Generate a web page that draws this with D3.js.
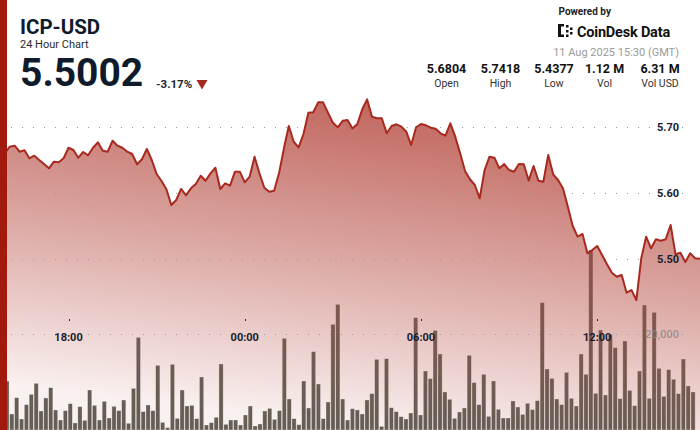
<!DOCTYPE html>
<html><head><meta charset="utf-8">
<script src="https://cdn.jsdelivr.net/npm/d3@7"></script>
<style>
html,body{margin:0;padding:0;background:#fff;}
svg{display:block;font-family:Roboto,"Noto Sans",sans-serif;}
</style></head><body>
<svg id="chart" width="700" height="430"></svg>
<script>
// ---------- data ----------
const startTime = Date.UTC(2025, 7, 10, 15, 40);   // first 10-minute point
const stepMinutes = 10;
const prices = [
5.6621,5.6606,5.6702,5.6717,5.6626,5.6647,5.6526,5.6565,5.6500,5.6439,
5.6374,5.6474,5.6465,5.6526,5.6686,5.6652,5.6535,5.6621,5.6571,5.6686,
5.6768,5.6641,5.6626,5.6792,5.6717,5.6686,5.6626,5.6591,5.6435,5.6511,
5.6667,5.6500,5.6288,5.6182,5.6056,5.5818,5.5894,5.6061,5.5965,5.6071,
5.6136,5.6262,5.6186,5.6298,5.6383,5.6061,5.6147,5.6111,5.6323,5.6323,
5.6162,5.6247,5.6550,5.6298,5.6080,5.6020,5.6035,5.6298,5.6677,5.7015,
5.6777,5.6692,5.6894,5.7217,5.7223,5.7374,5.7374,5.7217,5.7065,5.6995,
5.7095,5.7106,5.6977,5.7045,5.7268,5.7418,5.7156,5.7132,5.7132,5.6905,
5.7015,5.7041,5.7005,5.6929,5.6727,5.6995,5.7045,5.7026,5.6989,5.6974,
5.6905,5.6868,5.7056,5.6853,5.6602,5.6333,5.6208,5.6121,5.5920,5.6348,
5.6550,5.6535,5.6374,5.6439,5.6348,5.6323,5.6439,5.6435,5.6189,5.6409,
5.6186,5.6171,5.6576,5.6283,5.6197,5.6071,5.5792,5.5500,5.5338,5.5379,
5.5086,5.5136,5.5197,5.5061,5.4920,5.4792,5.4732,5.4758,5.4489,5.4530,
5.4377,5.5011,5.5338,5.5162,5.5298,5.5277,5.5298,5.5515,5.5071,5.5095,
5.4955,5.5086,5.5011,5.5002];
const volumes = [
8000,10200,3330,6730,2290,5280,7430,9720,3960,6670,
8820,4170,2080,4030,5490,1460,4860,2010,8330,5140,
2080,5970,2500,4930,4030,6250,1390,8680,19300,3820,
5210,4030,13470,1600,490,13680,2430,8330,5000,5140,
2360,11040,1040,1530,2640,13750,1180,2080,2080,1040,
3130,5000,830,1250,3960,4510,2220,4030,19100,6460,
2360,1110,10210,4580,16320,9580,2360,5830,22010,26180,
6460,2080,4440,4170,3330,6250,7570,14720,760,14860,
4650,3820,2780,2290,3540,23400,3130,12290,10700,20760,
15830,7920,6390,2430,3750,4580,15560,9860,5280,11600,
2850,10210,4310,2500,2500,6040,4790,3260,5560,4240,
6110,26530,12710,10760,6460,5280,12010,6600,5000,15830,
11600,37500,7640,20830,7290,19930,17150,6530,18540,8260,
5070,12290,26040,6600,24510,12850,7010,12570,10560,7570,
14790,9170,7920,0];
const priceTicks = [5.50, 5.60, 5.70];
const volumeTicks = [20000];
const timeTicks = [Date.UTC(2025,7,10,18), Date.UTC(2025,7,11,0), Date.UTC(2025,7,11,6), Date.UTC(2025,7,11,12)];
const timeTickLabels = ["18:00", "00:00", "06:00", "12:00"];
const titleText = "ICP-USD";
const subtitleText = "24 Hour Chart";
const lastPrice = "5.5002";
const changeText = "-3.17%";
const dateText = "11 Aug 2025 15:30 (GMT)";
const statValues = ["5.6804", "5.7418", "5.4377", "1.12 M", "6.31 M"];
const statLabels = ["Open", "High", "Low", "Vol", "Vol USD"];

// ---------- chart ----------
const W = 700, H = 430;
const svg = d3.select("#chart");
const times = prices.map((_, i) => new Date(startTime + i * stepMinutes * 60000));

const x = d3.scaleUtc().domain([times[0], times[times.length - 1]]).range([0, W]);
const yP = d3.scaleLinear().domain([5.4, 5.8]).range([325, 61]);
const yV = d3.scaleLinear().domain([0, 40000]).range([H, 238]);
const xb = d3.scaleBand().domain(d3.range(volumes.length)).range([0, W]).paddingInner(0.14);

const defs = svg.append("defs");
const grad = defs.append("linearGradient").attr("id", "areaGrad")
  .attr("gradientUnits", "userSpaceOnUse")
  .attr("x1", 420).attr("y1", 95).attr("x2", 379).attr("y2", 430);
grad.append("stop").attr("offset", 0).attr("stop-color", "#b4463c").attr("stop-opacity", 0.85);
grad.append("stop").attr("offset", 0.5).attr("stop-color", "#b4463c").attr("stop-opacity", 0.48);
grad.append("stop").attr("offset", 1).attr("stop-color", "#b4463c").attr("stop-opacity", 0.08);

svg.append("rect").attr("width", W).attr("height", H).attr("fill", "#fff");

// volume bars
svg.append("g").selectAll("rect").data(volumes).join("rect")
  .attr("x", (d, i) => xb(i))
  .attr("width", xb.bandwidth())
  .attr("y", d => yV(d))
  .attr("height", d => yV(0) - yV(d))
  .attr("fill", "#5d6158")
  .attr("stroke", "rgba(255,255,255,0.55)")
  .attr("stroke-width", 0.6);

// area
const area = d3.area().x((d, i) => x(times[i])).y0(H).y1(d => yP(d));
svg.append("path").datum(prices).attr("d", area).attr("fill", "url(#areaGrad)");

// grid lines
const gridG = svg.append("g").attr("stroke", "#9a9a9a").attr("stroke-width", 1)
  .attr("stroke-dasharray", "1,10");
priceTicks.forEach(t => {
  gridG.append("line").attr("x1", 11).attr("x2", 693)
    .attr("y1", Math.round(yP(t)) + 0.5).attr("y2", Math.round(yP(t)) + 0.5);
});
volumeTicks.forEach(t => {
  gridG.append("line").attr("x1", 11).attr("x2", 693)
    .attr("y1", Math.round(yV(t)) + 0.5).attr("y2", Math.round(yV(t)) + 0.5);
});

// price line
const line = d3.line().x((d, i) => x(times[i])).y(d => yP(d));
svg.append("path").datum(prices).attr("d", line)
  .attr("fill", "none").attr("stroke", "#a8291d").attr("stroke-width", 2)
  .attr("stroke-linejoin", "round");

// price labels
svg.append("g").selectAll("text").data(priceTicks).join("text")
  .attr("x", 679).attr("y", d => yP(d) + 4)
  .attr("text-anchor", "end").attr("font-size", 11).attr("font-weight", 700)
  .attr("fill", "#18202e").text(d => d.toFixed(2));

// volume label
svg.append("g").selectAll("text").data(volumeTicks).join("text")
  .attr("x", 679).attr("y", d => yV(d) + 4)
  .attr("text-anchor", "end").attr("font-size", 11).attr("font-weight", 500)
  .attr("fill", "#8a8280").attr("fill-opacity", 0.8).text(d => d3.format(",")(d));

// time axis
const tg = svg.append("g");
timeTicks.forEach((t, i) => {
  tg.append("rect").attr("x", Math.round(x(t))).attr("y", 319).attr("width", 1).attr("height", 2)
    .attr("fill", "#2a3040");
  tg.append("text").attr("x", x(t)).attr("y", 341).attr("text-anchor", "middle")
    .attr("font-size", 11).attr("font-weight", 700).attr("fill", "#18202e")
    .text(timeTickLabels[i]);
});

// left red bar
svg.append("rect").attr("x", 0).attr("y", 0).attr("width", 7).attr("height", H).attr("fill", "#a2190e");

// header
const hd = svg.append("g").attr("fill", "#0f1a2b");
hd.append("text").attr("x", 20).attr("y", 34).attr("font-size", 20.5).attr("font-weight", 700).text(titleText);
hd.append("text").attr("x", 20).attr("y", 48).attr("font-size", 11).attr("fill", "#2b2b2b").text(subtitleText);
hd.append("text").attr("x", 20).attr("y", 86).attr("font-size", 39).attr("font-weight", 700).text(lastPrice);
hd.append("text").attr("x", 156).attr("y", 87.5).attr("font-size", 11.5).attr("font-weight", 700)
  .attr("fill", "#1e2633").text(changeText);
hd.append("path").attr("d", "M196.5,80 L207.5,80 L202,89.5 Z").attr("fill", "#a8281c");

// branding
const br = svg.append("g");
br.append("text").attr("x", 558.5).attr("y", 15).attr("font-size", 10).attr("font-weight", 700)
  .attr("fill", "#222").text("Powered by");
const logo = br.append("g").attr("fill", "#111");
[[558,24,3,13],[561,24,3,2.5],[561,34.5,3,2.5],[566,25,2.5,2.5],[566,30,2.5,2.5],[566,34.5,2.5,2.5],[570,27.5,2.5,2.5],[570,32,2.5,2.5]]
  .forEach(r => logo.append("rect").attr("x", r[0]).attr("y", r[1]).attr("width", r[2]).attr("height", r[3]));
br.append("text").attr("x", 577).attr("y", 37.3).attr("font-size", 14.5).attr("font-weight", 700)
  .attr("fill", "#111").attr("letter-spacing", -0.2).text("CoinDesk Data");
br.append("text").attr("x", 679).attr("y", 56).attr("text-anchor", "end").attr("font-size", 11)
  .attr("fill", "#9b9b9b").text(dateText);

// stats
const statX = [446.5, 500.5, 554, 604.5, 660];
statValues.forEach((v, i) => {
  svg.append("text").attr("x", statX[i]).attr("y", 72.5).attr("text-anchor", "middle")
    .attr("font-size", 12.5).attr("font-weight", 700).attr("fill", "#111").text(v);
  svg.append("text").attr("x", statX[i]).attr("y", 87).attr("text-anchor", "middle")
    .attr("font-size", 10.5).attr("fill", "#333").text(statLabels[i]);
});
</script>
</body></html>
